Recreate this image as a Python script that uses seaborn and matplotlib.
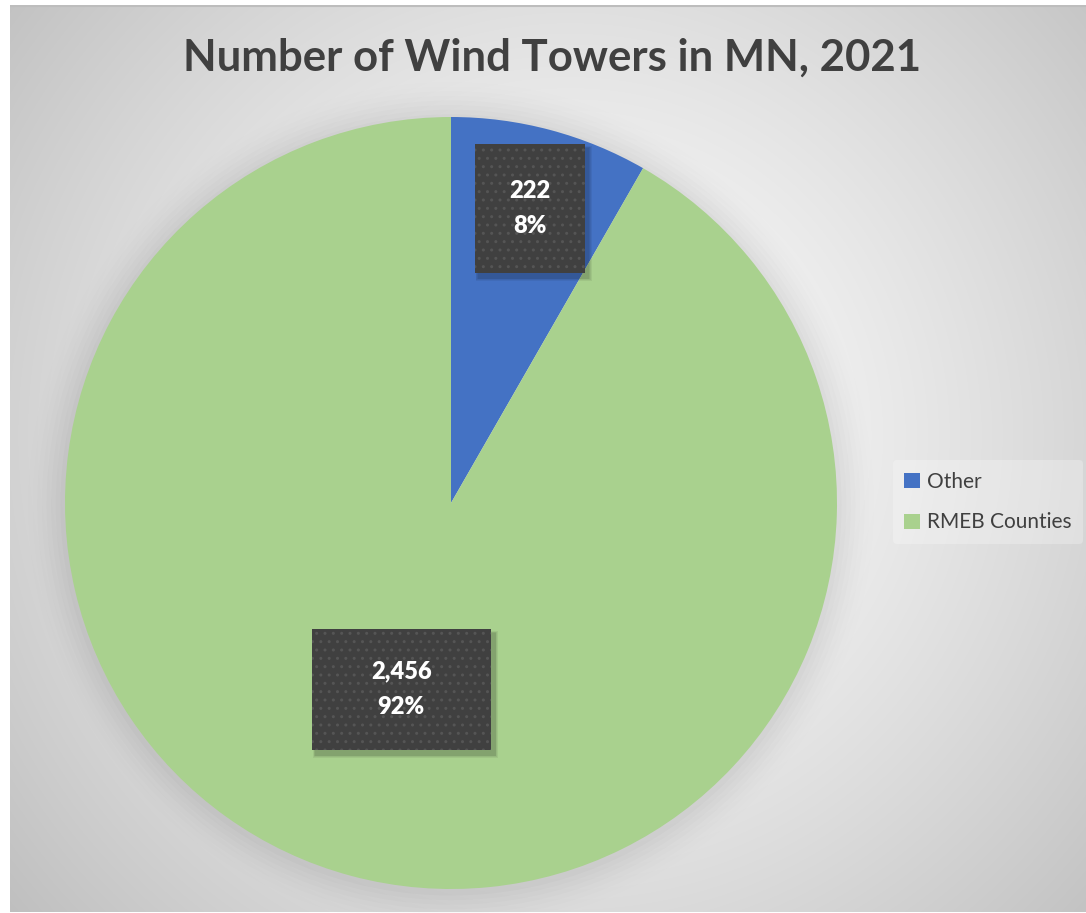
import numpy as np
import matplotlib
matplotlib.use("Agg")
import matplotlib.pyplot as plt
from matplotlib.patches import Rectangle
import seaborn as sns

# ---- data ----
categories = ["Other", "RMEB Counties"]
values = [222, 2456]
title_text = "Number of Wind Towers in MN, 2021"

# ---- styles ----
colors = ["#4472C4", "#A9D18E"]
label_dist = [0.79, 0.50]              # radial position of each data label
box_px = [(110, 129), (179, 121)]      # label box sizes in pixels

sns.set_theme(style="white")
plt.rcParams["font.family"] = ["Lato", "DejaVu Sans"]

W, H = 1086, 913
fig = plt.figure(figsize=(W / 100, H / 100), dpi=100)
fig.patch.set_facecolor("white")

# gradient chart-area background
bg = fig.add_axes([10 / W, 1 / H, 1 - 10 / W, (H - 6) / H])
bw, bh = 1076, 906
yy, xx = np.mgrid[0:bh, 0:bw]
cx, cy = 560, 430
d = np.sqrt((xx - cx) ** 2 + (yy - cy) ** 2)
d = d / d.max()
g = 1.0 - 0.25 * d ** 1.3
img = np.dstack([g, g, g])
bg.imshow(img, aspect="auto", extent=[0, bw, bh, 0])
bg.set_axis_off()
bg.plot([0, bw], [0.5, 0.5], color="#bdbdbd", lw=1.5)
bg.set_xlim(0, bw)
bg.set_ylim(bh, 0)

# pie axes
R = 386
pcx, pcy = 451, 503
ax = fig.add_axes([(pcx - R) / W, (H - pcy - R) / H, 2 * R / W, 2 * R / H])

# soft shadow behind pie
for i, a in enumerate(np.linspace(0.015, 0.004, 8)):
    circ = plt.Circle((0.0, -0.005), 1 + 0.012 * (i + 1), color="black", alpha=a,
                      lw=0, clip_on=False)
    ax.add_patch(circ)

wedges, _ = ax.pie(values, colors=colors, startangle=90, counterclock=False,
                   radius=1, wedgeprops=dict(linewidth=0))
ax.set_xlim(-1, 1)
ax.set_ylim(-1, 1)
ax.set_axis_off()

total = sum(values)
for w, v, dist, (bwpx, bhpx) in zip(wedges, values, label_dist, box_px):
    ang = np.deg2rad((w.theta1 + w.theta2) / 2)
    x, y = dist * np.cos(ang), dist * np.sin(ang)
    bwid, bhei = bwpx / R, bhpx / R
    # soft shadow
    for k in range(4):
        e = (4 - k) * 1.5 / R
        ax.add_patch(Rectangle((x - bwid / 2 + 4 / R - e / 2, y - bhei / 2 - 5 / R - e / 2),
                               bwid + e, bhei + e, facecolor="black", alpha=0.06,
                               lw=0, zorder=3))
    ax.add_patch(Rectangle((x - bwid / 2, y - bhei / 2), bwid, bhei,
                           facecolor="#404040", lw=0, zorder=4))
    ax.add_patch(Rectangle((x - bwid / 2, y - bhei / 2), bwid, bhei,
                           facecolor="none", edgecolor="#555555", lw=0,
                           hatch="..", zorder=5))
    ax.text(x, y, f"{v:,}\n{v / total:.0%}", ha="center", va="center",
            color="white", fontsize=17, fontweight="heavy", linespacing=1.75,
            zorder=6)

fig.text(0.508, 0.937, title_text, ha="center", va="center",
         fontsize=31.5, fontweight="bold", color="#404040")

handles = [Rectangle((0, 0), 1, 1, facecolor=c, lw=0) for c in colors]
leg = fig.legend(handles, categories, loc="center left",
                 bbox_to_anchor=(893 / W, 1 - 502 / H), frameon=True,
                 fontsize=15, handlelength=0.75, handleheight=0.75,
                 handletextpad=0.35, labelspacing=1.0, borderpad=0.55,
                 borderaxespad=0)
leg.get_frame().set_facecolor("white")
leg.get_frame().set_alpha(0.25)
leg.get_frame().set_edgecolor("none")
for t in leg.get_texts():
    t.set_color("#404040")

fig.savefig("out.png", dpi=100)
